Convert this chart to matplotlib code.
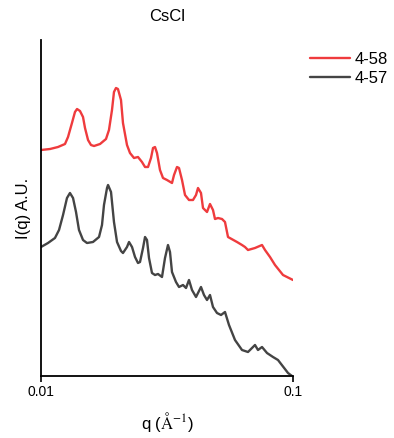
import matplotlib
matplotlib.use("Agg")
import matplotlib.pyplot as plt

plt.rcParams['font.family'] = ['Liberation Sans', 'DejaVu Sans']
plt.rcParams['mathtext.fontset'] = 'stix'

# scattering vector q (1/A) and intensity (arbitrary units, offset per sample)
q_458 = [0.01000, 0.01086, 0.01168, 0.01245, 0.01280, 0.01327, 0.01364, 0.01390,
         0.01428, 0.01468, 0.01495, 0.01537, 0.01579, 0.01623, 0.01715, 0.01811,
         0.01861, 0.01913, 0.01948, 0.01984, 0.02020, 0.02077, 0.02115, 0.02194,
         0.02255, 0.02339, 0.02426, 0.02516, 0.02587, 0.02659, 0.02732, 0.02783,
         0.02834, 0.02886, 0.02966, 0.03049, 0.03162, 0.03310, 0.03372, 0.03465,
         0.03529, 0.03627, 0.03728, 0.03866, 0.04010, 0.04122, 0.04198, 0.04314,
         0.04394, 0.04558, 0.04684, 0.04814, 0.04903, 0.05040, 0.05227, 0.05372,
         0.05522, 0.05995, 0.06275, 0.06449, 0.06628, 0.07066, 0.07534, 0.07743,
         0.08105, 0.08484, 0.09127, 0.10000]
I_458 = [226, 227, 229, 232, 239, 253, 264, 267,
         265, 259, 248, 236, 231, 230, 232, 237,
         246, 266, 284, 288, 287, 276, 253, 231,
         223, 218, 219, 214, 209, 209, 218, 228,
         229, 223, 206, 198, 196, 193, 201, 209,
         208, 196, 181, 176, 176, 181, 188, 183,
         168, 164, 172, 166, 157, 158, 157, 154,
         139, 134, 131, 129, 126, 128, 131, 126,
         119, 111, 101, 96]

q_457 = [0.01000, 0.01066, 0.01136, 0.01179, 0.01223, 0.01268, 0.01303, 0.01340,
         0.01377, 0.01415, 0.01468, 0.01522, 0.01608, 0.01699, 0.01746, 0.01778,
         0.01828, 0.01845, 0.01896, 0.01948, 0.02003, 0.02077, 0.02115, 0.02194,
         0.02235, 0.02297, 0.02361, 0.02426, 0.02471, 0.02540, 0.02587, 0.02634,
         0.02683, 0.02757, 0.02834, 0.02913, 0.03021, 0.03105, 0.03191, 0.03250,
         0.03310, 0.03433, 0.03529, 0.03660, 0.03762, 0.03866, 0.03974, 0.04122,
         0.04198, 0.04314, 0.04434, 0.04558, 0.04684, 0.04814, 0.04994, 0.05180,
         0.05372, 0.05572, 0.05886, 0.06275, 0.06628, 0.07066, 0.07262, 0.07534,
         0.07886, 0.08330, 0.08719, 0.09554, 0.09909]
I_457 = [129, 133, 138, 146, 161, 178, 183, 178,
         164, 146, 136, 133, 134, 139, 151, 171,
         188, 191, 184, 154, 134, 125, 123, 129,
         134, 129, 119, 113, 114, 128, 139, 136,
         118, 103, 101, 102, 99, 118, 131, 124,
         104, 94, 89, 91, 88, 96, 86, 79,
         83, 89, 81, 76, 81, 69, 63, 61,
         64, 51, 36, 26, 24, 31, 26, 29,
         23, 19, 16, 3, 0]

W, H = 394, 438
fig = plt.figure(figsize=(W / 100, H / 100), dpi=100)
ax = fig.add_axes([41 / W, (H - 376) / H, (293 - 41) / W, (376 - 40) / H])

ax.plot(q_458, I_458, color='#ef3b3d', lw=1.7, label='4-58',
        solid_joinstyle='round', solid_capstyle='round')
ax.plot(q_457, I_457, color='#444444', lw=1.7, label='4-57',
        solid_joinstyle='round', solid_capstyle='round')

ax.set_xscale('log')
ax.set_xlim(0.01, 0.1)
ax.set_ylim(0, 336)
ax.set_xticks([0.01, 0.1])
ax.set_xticklabels(['0.01', '0.1'])
ax.minorticks_off()
ax.tick_params(axis='x', length=4, width=1.2, labelsize=10, pad=2.5)
ax.set_yticks([])

for s in ['top', 'right']:
    ax.spines[s].set_visible(False)
for s in ['left', 'bottom']:
    ax.spines[s].set_linewidth(1.3)

ax.set_title('CsCl', fontsize=12, pad=14)
ax.set_ylabel('I(q) A.U.', fontsize=12, labelpad=7)
ax.set_xlabel(r'q ($\mathrm{\AA}^{-1}$)', fontsize=12, labelpad=8)

fig.legend(loc='upper left', bbox_to_anchor=(310 / W, 1 - 52 / H), frameon=False,
           fontsize=12, handlelength=2.4, handletextpad=0.3, labelspacing=0.25,
           borderpad=0, borderaxespad=0)

fig.savefig('out.png', dpi=100)
